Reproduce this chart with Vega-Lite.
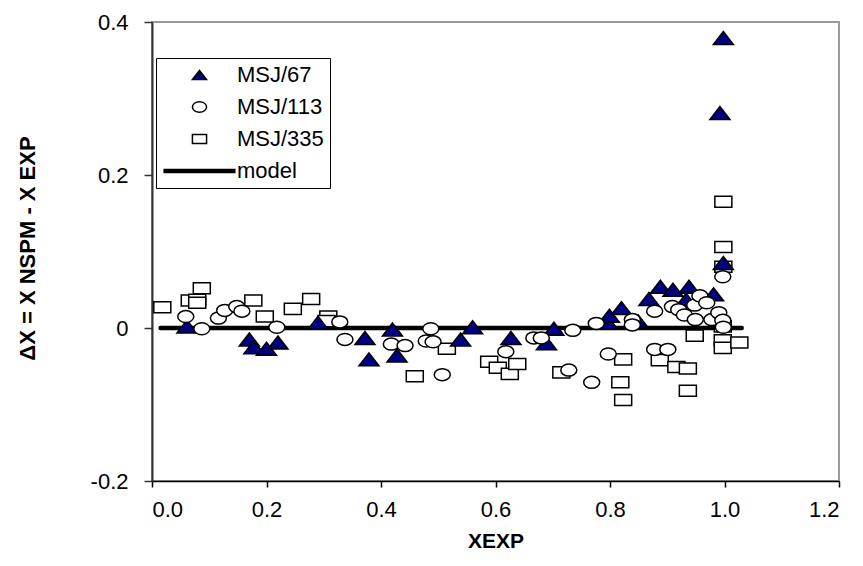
{
  "$schema": "https://vega.github.io/schema/vega-lite/v6.json",
  "width": 687,
  "height": 459,
  "autosize": "none",
  "padding": {"left": 152, "top": 22, "right": 24, "bottom": 85},
  "background": "white",
  "config": {
    "view": {"stroke": "#9a9a9a", "strokeWidth": 2},
    "font": "Liberation Sans",
    "axis": {
      "labelFont": "Liberation Sans",
      "labelFontSize": 22,
      "labelColor": "black",
      "domainColor": "black",
      "domainWidth": 1.5,
      "tickColor": "black",
      "tickWidth": 1.5,
      "grid": false,
      "titleFont": "Liberation Sans",
      "titleFontWeight": "bold",
      "titleColor": "black"
    },
    "legend": {
      "orient": "none",
      "legendX": 4,
      "legendY": 36,
      "strokeColor": "black",
      "fillColor": "white",
      "padding": 6,
      "rowPadding": 10,
      "symbolSize": 200,
      "labelFont": "Liberation Sans",
      "labelFontSize": 22,
      "labelColor": "black",
      "labelOffset": 26.5,
      "symbolOffset": 26.5,
      "symbolOpacity": 1,
      "symbolStrokeColor": "black"
    }
  },
  "datasets": {
    "points": [
      {"series": "MSJ/335", "x": 0.018, "y": 0.027},
      {"series": "MSJ/335", "x": 0.066, "y": 0.036},
      {"series": "MSJ/335", "x": 0.079, "y": 0.037},
      {"series": "MSJ/335", "x": 0.079, "y": 0.033},
      {"series": "MSJ/335", "x": 0.087, "y": 0.052},
      {"series": "MSJ/335", "x": 0.177, "y": 0.036},
      {"series": "MSJ/335", "x": 0.197, "y": 0.015},
      {"series": "MSJ/335", "x": 0.246, "y": 0.025},
      {"series": "MSJ/335", "x": 0.278, "y": 0.038},
      {"series": "MSJ/335", "x": 0.308, "y": 0.015},
      {"series": "MSJ/335", "x": 0.305, "y": 0.009},
      {"series": "MSJ/335", "x": 0.459, "y": -0.063},
      {"series": "MSJ/335", "x": 0.515, "y": -0.027},
      {"series": "MSJ/335", "x": 0.589, "y": -0.044},
      {"series": "MSJ/335", "x": 0.604, "y": -0.052},
      {"series": "MSJ/335", "x": 0.625, "y": -0.060},
      {"series": "MSJ/335", "x": 0.638, "y": -0.047},
      {"series": "MSJ/335", "x": 0.715, "y": -0.058},
      {"series": "MSJ/335", "x": 0.818, "y": -0.071},
      {"series": "MSJ/335", "x": 0.823, "y": -0.041},
      {"series": "MSJ/335", "x": 0.823, "y": -0.094},
      {"series": "MSJ/335", "x": 0.887, "y": -0.042},
      {"series": "MSJ/335", "x": 0.916, "y": -0.051},
      {"series": "MSJ/335", "x": 0.936, "y": -0.053},
      {"series": "MSJ/335", "x": 0.936, "y": -0.082},
      {"series": "MSJ/335", "x": 0.948, "y": -0.010},
      {"series": "MSJ/335", "x": 0.997, "y": 0.002},
      {"series": "MSJ/335", "x": 0.997, "y": -0.016},
      {"series": "MSJ/335", "x": 0.997, "y": -0.026},
      {"series": "MSJ/335", "x": 1.026, "y": -0.019},
      {"series": "MSJ/335", "x": 0.998, "y": 0.080},
      {"series": "MSJ/335", "x": 0.998, "y": 0.106},
      {"series": "MSJ/335", "x": 0.998, "y": 0.165},
      {"series": "MSJ/67", "x": 0.061, "y": 0.002},
      {"series": "MSJ/67", "x": 0.170, "y": -0.015},
      {"series": "MSJ/67", "x": 0.178, "y": -0.025},
      {"series": "MSJ/67", "x": 0.200, "y": -0.027},
      {"series": "MSJ/67", "x": 0.220, "y": -0.019},
      {"series": "MSJ/67", "x": 0.290, "y": 0.007},
      {"series": "MSJ/67", "x": 0.372, "y": -0.013},
      {"series": "MSJ/67", "x": 0.379, "y": -0.041},
      {"series": "MSJ/67", "x": 0.420, "y": -0.002},
      {"series": "MSJ/67", "x": 0.428, "y": -0.036},
      {"series": "MSJ/67", "x": 0.539, "y": -0.015},
      {"series": "MSJ/67", "x": 0.560, "y": 0.001},
      {"series": "MSJ/67", "x": 0.627, "y": -0.013},
      {"series": "MSJ/67", "x": 0.689, "y": -0.020},
      {"series": "MSJ/67", "x": 0.702, "y": -0.001},
      {"series": "MSJ/67", "x": 0.796, "y": 0.007},
      {"series": "MSJ/67", "x": 0.799, "y": 0.016},
      {"series": "MSJ/67", "x": 0.820, "y": 0.026},
      {"series": "MSJ/67", "x": 0.849, "y": 0.009},
      {"series": "MSJ/67", "x": 0.868, "y": 0.038},
      {"series": "MSJ/67", "x": 0.888, "y": 0.054},
      {"series": "MSJ/67", "x": 0.910, "y": 0.050},
      {"series": "MSJ/67", "x": 0.933, "y": 0.037},
      {"series": "MSJ/67", "x": 0.938, "y": 0.054},
      {"series": "MSJ/67", "x": 0.981, "y": 0.044},
      {"series": "MSJ/67", "x": 0.998, "y": 0.085},
      {"series": "MSJ/67", "x": 0.992, "y": 0.281},
      {"series": "MSJ/67", "x": 0.998, "y": 0.379},
      {"series": "MSJ/113", "x": 0.059, "y": 0.015},
      {"series": "MSJ/113", "x": 0.087, "y": -0.001},
      {"series": "MSJ/113", "x": 0.116, "y": 0.013},
      {"series": "MSJ/113", "x": 0.127, "y": 0.023},
      {"series": "MSJ/113", "x": 0.148, "y": 0.028},
      {"series": "MSJ/113", "x": 0.157, "y": 0.022},
      {"series": "MSJ/113", "x": 0.218, "y": 0.001},
      {"series": "MSJ/113", "x": 0.328, "y": 0.008},
      {"series": "MSJ/113", "x": 0.337, "y": -0.015},
      {"series": "MSJ/113", "x": 0.418, "y": -0.021},
      {"series": "MSJ/113", "x": 0.442, "y": -0.023},
      {"series": "MSJ/113", "x": 0.479, "y": -0.017},
      {"series": "MSJ/113", "x": 0.487, "y": -0.001},
      {"series": "MSJ/113", "x": 0.491, "y": -0.018},
      {"series": "MSJ/113", "x": 0.507, "y": -0.061},
      {"series": "MSJ/113", "x": 0.618, "y": -0.031},
      {"series": "MSJ/113", "x": 0.667, "y": -0.013},
      {"series": "MSJ/113", "x": 0.680, "y": -0.013},
      {"series": "MSJ/113", "x": 0.728, "y": -0.055},
      {"series": "MSJ/113", "x": 0.735, "y": -0.003},
      {"series": "MSJ/113", "x": 0.768, "y": -0.071},
      {"series": "MSJ/113", "x": 0.776, "y": 0.006},
      {"series": "MSJ/113", "x": 0.797, "y": -0.034},
      {"series": "MSJ/113", "x": 0.839, "y": 0.011},
      {"series": "MSJ/113", "x": 0.839, "y": 0.004},
      {"series": "MSJ/113", "x": 0.878, "y": 0.022},
      {"series": "MSJ/113", "x": 0.878, "y": -0.028},
      {"series": "MSJ/113", "x": 0.901, "y": -0.028},
      {"series": "MSJ/113", "x": 0.909, "y": 0.028},
      {"series": "MSJ/113", "x": 0.920, "y": 0.024},
      {"series": "MSJ/113", "x": 0.930, "y": 0.017},
      {"series": "MSJ/113", "x": 0.948, "y": 0.030},
      {"series": "MSJ/113", "x": 0.949, "y": 0.011},
      {"series": "MSJ/113", "x": 0.957, "y": 0.042},
      {"series": "MSJ/113", "x": 0.969, "y": 0.033},
      {"series": "MSJ/113", "x": 0.978, "y": 0.011},
      {"series": "MSJ/113", "x": 0.990, "y": 0.020},
      {"series": "MSJ/113", "x": 0.997, "y": 0.010},
      {"series": "MSJ/113", "x": 0.998, "y": 0.001},
      {"series": "MSJ/113", "x": 0.997, "y": 0.067}
    ],
    "model": [
      {"x": 0.015, "y": 0},
      {"x": 1.03, "y": 0}
    ]
  },
  "encoding": {
    "x": {
      "field": "x",
      "type": "quantitative",
      "scale": {"domain": [0, 1.2], "nice": false, "zero": false},
      "axis": {
        "values": [0, 0.2, 0.4, 0.6, 0.8, 1.0, 1.2],
        "format": ".1f",
        "tickSize": 6,
        "labelPadding": 12,
        "title": "XEXP",
        "titleFontSize": 21,
        "titleBaseline": "middle",
        "titleY": 60
      }
    },
    "y": {
      "field": "y",
      "type": "quantitative",
      "scale": {"domain": [-0.2, 0.4], "nice": false, "zero": false},
      "axis": {
        "values": [-0.2, 0, 0.2, 0.4],
        "labelExpr": "datum.value == 0 ? '0' : replace(format(datum.value, '.1f'), '\u2212', '-')",
        "tickSize": 8,
        "labelPadding": 16,
        "domainColor": "#333333",
        "domainWidth": 2,
        "tickColor": "#333333",
        "title": "ΔX = X NSPM - X EXP",
        "titleFontSize": 22,
        "titleBaseline": "middle",
        "titleX": -125,
        "titleY": 226
      }
    },
    "shape": {
      "field": "series",
      "type": "nominal",
      "scale": {
        "domain": ["MSJ/67", "MSJ/113", "MSJ/335", "model"],
        "range": ["M0,-0.65L1,0.65L-1,0.65Z", "M-1,0A1,0.75 0 1,1 1,0A1,0.75 0 1,1 -1,0Z", "M-1,-0.65H1V0.65H-1Z", "M-5.1,0H5.1"]
      },
      "legend": {
        "title": null,
        "encode": {
          "symbols": {
            "update": {
              "stroke": {"value": "black"},
              "strokeWidth": {"signal": "datum.value == 'model' ? 4.5 : 1.5"}
            }
          }
        }
      }
    },
    "fill": {
      "field": "series",
      "type": "nominal",
      "scale": {
        "domain": ["MSJ/67", "MSJ/113", "MSJ/335", "model"],
        "range": ["#000080", "white", "white", "black"]
      },
      "legend": {
        "title": null,
        "encode": {
          "symbols": {
            "update": {
              "stroke": {"value": "black"},
              "strokeWidth": {"signal": "datum.value == 'model' ? 4.5 : 1.5"}
            }
          }
        }
      }
    }
  },
  "layer": [
    {
      "data": {"name": "model"},
      "mark": {"type": "line", "color": "black", "strokeWidth": 4.5, "strokeCap": "round"},
      "encoding": {"shape": null, "fill": null}
    },
    {
      "data": {"name": "points"},
      "transform": [{"filter": "datum.series == 'MSJ/335'"}],
      "mark": {"type": "point", "filled": true, "opacity": 1, "stroke": "black", "strokeWidth": 1.5, "size": 289}
    },
    {
      "data": {"name": "points"},
      "transform": [{"filter": "datum.series == 'MSJ/67'"}],
      "mark": {"type": "point", "filled": true, "opacity": 1, "stroke": "black", "strokeWidth": 1.5, "size": 400}
    },
    {
      "data": {"name": "points"},
      "transform": [{"filter": "datum.series == 'MSJ/113'"}],
      "mark": {"type": "point", "filled": true, "opacity": 1, "stroke": "black", "strokeWidth": 1.5, "size": 256}
    }
  ]
}
